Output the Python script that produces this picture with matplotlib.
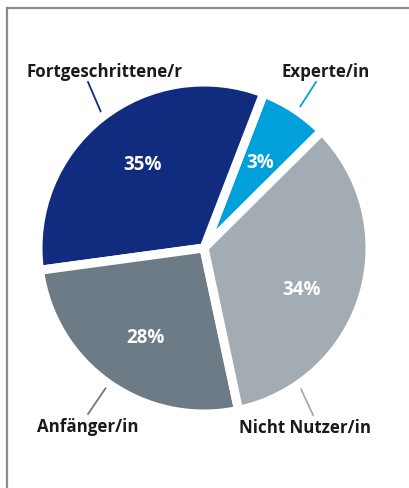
"""Pie chart: self-rated skill level (Experte/in, Fortgeschrittene/r, ...)."""

import numpy as np
import matplotlib.pyplot as plt
from matplotlib.lines import Line2D

# data -------------------------------------------------------------------
categories = ["Experte/in", "Fortgeschrittene/r", "Anfänger/in", "Nicht Nutzer/in"]
printed_pct = [3, 35, 28, 34]            # numbers written on the slices
slice_share = [6.7, 33.0, 26.2, 34.1]    # slice sizes as drawn in the picture
colors = ["#00a0dc", "#112b7f", "#6c7b85", "#a3acb2"]
leader_colors = ["#00a0dc", "#112b7f", "#6c7b85", "#a3acb2"]

# layout (pixels of the 410x488 image) ------------------------------------
W, H = 410, 488
CX, CY, R = 204, 248, 166
pct_pos = [(260, 163), (143, 165), (145, 338), (302, 290)]
label_pos = [(326, 72), (105, 72), (88, 427), (305, 428)]
leader_end = [(316, 82), (88, 82), (88, 414), (313, 415)]
leader_frac = [0.45, 0.5, 0.5, 0.19]


def px(x, y):
    return (x - CX) / R, (CY - y) / R


fig = plt.figure(figsize=(W / 100, H / 100), dpi=100)
ax = fig.add_axes([0, 0, 1, 1])

wedges, _ = ax.pie(
    slice_share,
    colors=colors,
    startangle=44.8,
    counterclock=True,
    radius=1.0,
    center=(0, 0),
    wedgeprops=dict(edgecolor="white", linewidth=6.5),
    frame=True,
)
ax.set_xlim(-CX / R, (W - CX) / R)
ax.set_ylim(-(H - CY) / R, CY / R)
ax.set_aspect("auto")
ax.axis("off")

label_font = dict(family=["Open Sans", "DejaVu Sans"], fontweight="bold")

for i, w in enumerate(wedges):
    # percentage inside the slice
    x, y = px(*pct_pos[i])
    ax.text(x, y, f"{printed_pct[i]}%", color="white", fontsize=13.5,
            ha="center", va="center", **label_font)

    # category label outside
    x, y = px(*label_pos[i])
    ax.text(x, y, categories[i], color="#1a1a1a", fontsize=12.2,
            ha="center", va="center", **label_font)

    # leader line from label to slice
    ang = np.deg2rad(w.theta1 + leader_frac[i] * (w.theta2 - w.theta1))
    x0, y0 = px(*leader_end[i])
    ax.plot([x0, 0.95 * np.cos(ang)], [y0, 0.95 * np.sin(ang)],
            color=leader_colors[i], lw=1.3, zorder=0.5)

# partial frame (left and top edge)
fig.add_artist(Line2D([7 / W, 7 / W], [0, 1 - 8 / H], color="#8c8c8c",
                      lw=1.6, transform=fig.transFigure))
fig.add_artist(Line2D([7 / W, 1], [1 - 8 / H, 1 - 8 / H], color="#8c8c8c",
                      lw=1.6, transform=fig.transFigure))

fig.savefig("out.png", dpi=100, facecolor="white")
